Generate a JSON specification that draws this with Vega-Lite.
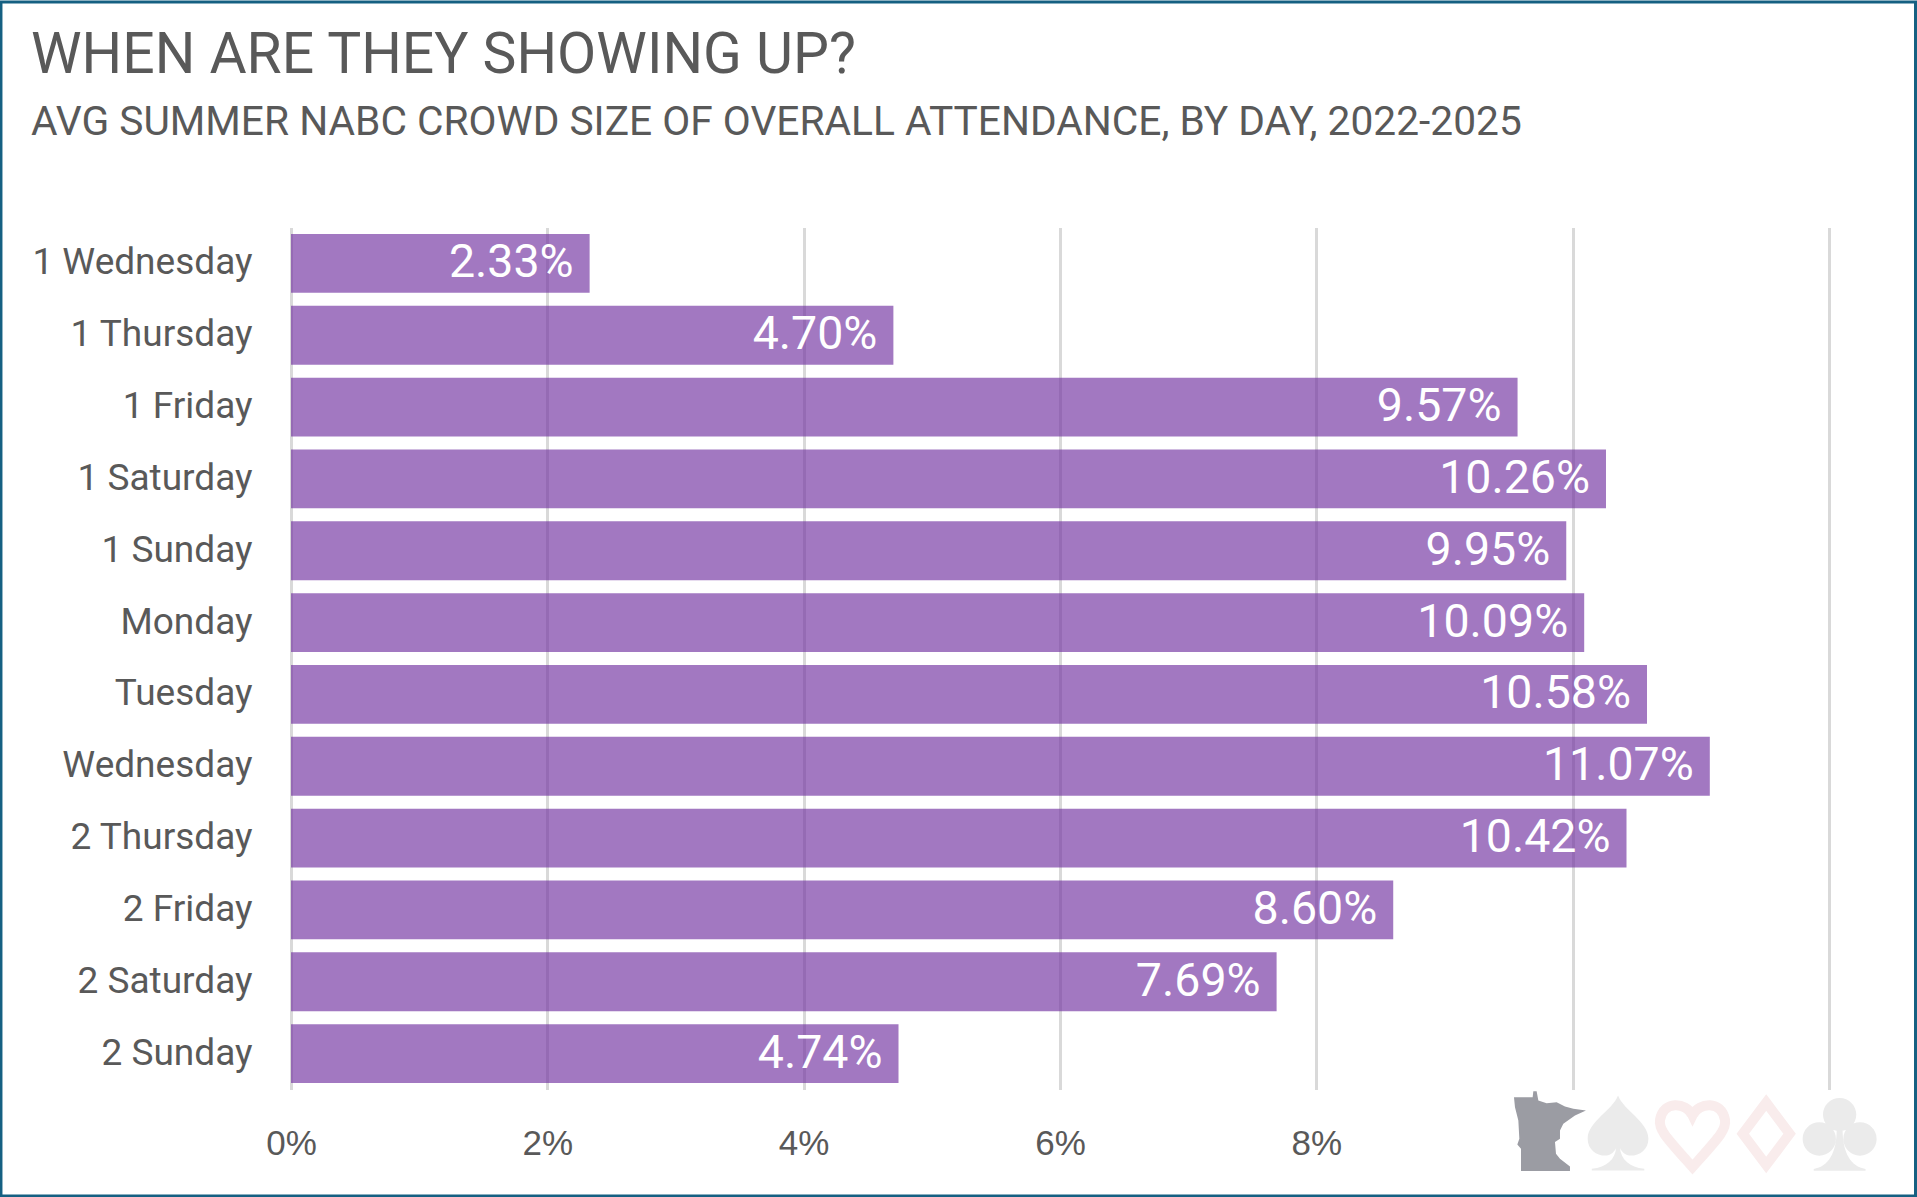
{
  "$schema": "https://vega.github.io/schema/vega-lite/v6.json",
  "width": 1538,
  "height": 862,
  "autosize": {"type": "none"},
  "padding": {"left": 291, "top": 227.5, "right": 88, "bottom": 107.5},
  "background": "#ffffff",
  "config": {"view": {"stroke": null}, "font": "Roboto"},
  "title": {
    "text": "WHEN ARE THEY SHOWING UP?",
    "subtitle": "AVG SUMMER NABC CROWD SIZE OF OVERALL ATTENDANCE, BY DAY, 2022-2025",
    "anchor": "start",
    "frame": "group",
    "dx": -260,
    "offset": -143,
    "font": "Roboto",
    "fontSize": 57,
    "fontWeight": "normal",
    "color": "#595959",
    "subtitleFont": "Roboto",
    "subtitleFontSize": 40.7,
    "subtitleColor": "#595959",
    "subtitlePadding": 18
  },
  "resolve": {"scale": {"y": "independent"}},
  "layer": [
    {
      "data": {
        "values": [
          {"day": "1 Wednesday", "share": 0.0233},
          {"day": "1 Thursday", "share": 0.0470},
          {"day": "1 Friday", "share": 0.0957},
          {"day": "1 Saturday", "share": 0.1026},
          {"day": "1 Sunday", "share": 0.0995},
          {"day": "Monday", "share": 0.1009},
          {"day": "Tuesday", "share": 0.1058},
          {"day": "Wednesday", "share": 0.1107},
          {"day": "2 Thursday", "share": 0.1042},
          {"day": "2 Friday", "share": 0.0860},
          {"day": "2 Saturday", "share": 0.0769},
          {"day": "2 Sunday", "share": 0.0474}
        ]
      },
      "encoding": {
        "y": {
          "field": "day",
          "type": "nominal",
          "sort": null,
          "title": null,
          "scale": {"paddingInner": 0.18, "paddingOuter": 0.09},
          "axis": {"domain": false, "ticks": false, "grid": false, "labelPadding": 39, "labelFontSize": 37, "labelLimit": 400, "labelColor": "#595959", "labelFont": "Roboto"}
        },
        "x": {
          "field": "share",
          "type": "quantitative",
          "title": null,
          "scale": {"domain": [0, 0.12]},
          "axis": {
            "values": [0, 0.02, 0.04, 0.06, 0.08, 0.1, 0.12],
            "format": ".0%",
            "labelExpr": "datum.value >= 0.095 ? '' : datum.label",
            "labelFlush": false,
            "labelOverlap": false,
            "domain": false,
            "ticks": false,
            "grid": true,
            "gridColor": "#D9D9D9",
            "gridWidth": 3,
            "labelPadding": 37,
            "labelFontSize": 35,
            "labelColor": "#595959",
            "labelFont": "Liberation Sans"
          }
        }
      },
      "layer": [
        {"mark": {"type": "bar", "color": "#7030A0", "opacity": 0.65}},
        {
          "mark": {"type": "text", "align": "right", "baseline": "middle", "dx": -16, "color": "#ffffff", "fontSize": 46.5, "font": "Roboto"},
          "encoding": {"text": {"field": "share", "type": "quantitative", "format": ".2%"}}
        }
      ]
    },
    {
      "data": {"values": [{"x0": -0.02263, "x1": 0.12675, "y0": -0.1235, "y1": 1.2616}]},
      "mark": {"type": "rect", "fill": "transparent", "stroke": "#156082", "strokeWidth": 3},
      "encoding": {
        "x": {"field": "x0", "type": "quantitative", "title": null, "scale": {"domain": [0, 0.12]}},
        "x2": {"field": "x1"},
        "y": {"field": "y0", "type": "quantitative", "scale": {"domain": [0, 1]}, "axis": null},
        "y2": {"field": "y1"}
      }
    },
    {
      "data": {"values": [{"x": 0.09823, "y": -0.0479}]},
      "mark": {"type": "point", "filled": true, "opacity": 1, "fill": "#9B9CA3", "size": 6500,
        "shape": "M-0.893,-0.835 L-0.43,-0.835 L-0.413,-0.983 L-0.331,-0.983 L-0.289,-0.752 L-0.083,-0.686 L0.165,-0.711 L0.372,-0.603 L0.579,-0.545 L0.893,-0.504 L0.62,-0.38 L0.331,-0.174 L0.248,-0.008 L0.248,0.198 L0.124,0.281 L0.149,0.57 L0.248,0.694 L0.496,0.884 L0.496,1 L-0.719,1 L-0.719,0.446 L-0.81,0.339 L-0.76,0.198 L-0.785,-0.256 L-0.868,-0.587 Z"},
      "encoding": {
        "x": {"field": "x", "type": "quantitative", "title": null, "scale": {"domain": [0, 0.12]}},
        "y": {"field": "y", "type": "quantitative", "scale": {"domain": [0, 1]}, "axis": null}
      }
    },
    {
      "data": {"values": [{"x": 0.10354, "y": -0.0505}]},
      "mark": {"type": "point", "filled": true, "opacity": 1, "fill": "#EBEBEB", "size": 5625,
        "shape": "M0,-1 C0.15,-0.6 0.81,-0.3 0.81,0.15 C0.81,0.45 0.55,0.62 0.3,0.6 C0.2,0.6 0.1,0.5 0.05,0.4 C0.08,0.7 0.3,0.92 0.7,0.95 L0.7,1 L-0.7,1 L-0.7,0.95 C-0.3,0.92 -0.08,0.7 -0.05,0.4 C-0.1,0.5 -0.2,0.6 -0.3,0.6 C-0.55,0.62 -0.81,0.45 -0.81,0.15 C-0.81,-0.3 -0.15,-0.6 0,-1 Z"},
      "encoding": {
        "x": {"field": "x", "type": "quantitative", "title": null, "scale": {"domain": [0, 0.12]}},
        "y": {"field": "y", "type": "quantitative", "scale": {"domain": [0, 1]}, "axis": null}
      }
    },
    {
      "data": {"values": [{"x": 0.10935, "y": -0.0522}]},
      "mark": {"type": "point", "filled": false, "opacity": 1, "stroke": "#F9ECEC", "strokeWidth": 10, "size": 4225,
        "shape": "M0,-0.59 C0.2,-1 0.9,-1.05 1,-0.45 C1.05,-0.15 0.8,0.1 0,1 C-0.8,0.1 -1.05,-0.15 -1,-0.45 C-0.9,-1.05 -0.2,-1 0,-0.59 Z"},
      "encoding": {
        "x": {"field": "x", "type": "quantitative", "title": null, "scale": {"domain": [0, 0.12]}},
        "y": {"field": "y", "type": "quantitative", "scale": {"domain": [0, 1]}, "axis": null}
      }
    },
    {
      "data": {"values": [{"x": 0.1151, "y": -0.0514}]},
      "mark": {"type": "point", "filled": false, "opacity": 1, "stroke": "#F9ECEC", "strokeWidth": 10, "size": 3900,
        "shape": "M0,-1 L0.75,0 L0,1 L-0.75,0 Z"},
      "encoding": {
        "x": {"field": "x", "type": "quantitative", "title": null, "scale": {"domain": [0, 0.12]}},
        "y": {"field": "y", "type": "quantitative", "scale": {"domain": [0, 1]}, "axis": null}
      }
    },
    {
      "data": {"values": [{"x": 0.12083, "y": -0.0514}]},
      "mark": {"type": "point", "filled": true, "opacity": 1, "fill": "#EBEBEB", "size": 5476,
        "shape": "M-0.45,-0.52 A0.45,0.45 0 1,1 0.45,-0.52 A0.45,0.45 0 1,1 -0.45,-0.52 Z M-1,0.14 A0.45,0.45 0 1,1 -0.1,0.14 A0.45,0.45 0 1,1 -1,0.14 Z M0.1,0.14 A0.45,0.45 0 1,1 1,0.14 A0.45,0.45 0 1,1 0.1,0.14 Z M0.08,-0.1 C0.08,0.5 0.3,0.9 0.7,0.95 L0.7,1 L-0.7,1 L-0.7,0.95 C-0.3,0.9 -0.08,0.5 -0.08,-0.1 Z"},
      "encoding": {
        "x": {"field": "x", "type": "quantitative", "title": null, "scale": {"domain": [0, 0.12]}},
        "y": {"field": "y", "type": "quantitative", "scale": {"domain": [0, 1]}, "axis": null}
      }
    }
  ]
}
